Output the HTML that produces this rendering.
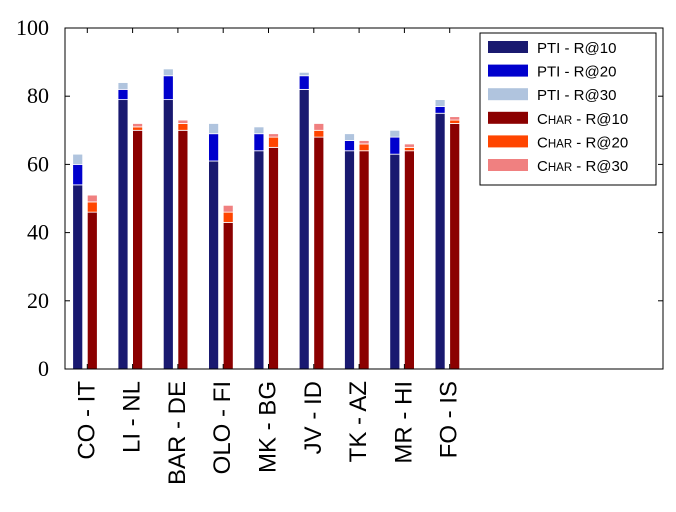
<!DOCTYPE html>
<html><head><meta charset="utf-8"><style>
body{margin:0;background:#fff;}
svg text{font-family:"Liberation Sans",sans-serif;}
</style></head><body>
<svg id="chart" width="676" height="507" xmlns="http://www.w3.org/2000/svg"></svg>
<script>
const categories=["CO - IT","LI - NL","BAR - DE","OLO - FI","MK - BG","JV - ID","TK - AZ","MR - HI","FO - IS"];
const ptiR10=[54,79,79,61,64,82,64,63,75];
const ptiR20=[60,82,86,69,69,86,67,68,77];
const ptiR30=[63,84,88,72,71,87,69,70,79];
const charR10=[46,70,70,43,65,68,64,64,72];
const charR20=[49,71,72,46,68,70,66,65,73];
const charR30=[51,72,73,48,69,72,67,66,74];
const yTicks=[0,20,40,60,80,100];
const legendLabels=["PTI - R@10","PTI - R@20","PTI - R@30","Char - R@10","Char - R@20","Char - R@30"];
const colors=["#191970","#0000cd","#b0c4de","#8b0000","#ff4500","#f08080"];

const svg=document.getElementById('chart');
const NS="http://www.w3.org/2000/svg";
const L=65,R=663,T=28,B=369;
const y=v=>B-(v/100)*(B-T);
const groupX=i=>72.7+i*45.3;
function mk(tag,attrs,parent){const e=document.createElementNS(NS,tag);for(const k in attrs)e.setAttribute(k,attrs[k]);(parent||svg).appendChild(e);return e;}

function drawStack(i,x,vals,cols,nm){
  let prev=0;
  vals.forEach((v,j)=>{
    const r=mk('rect',{x:x,y:y(v),width:10,height:y(prev)-y(v),fill:cols[j],stroke:'#fff','stroke-width':0.8});
    
    
    prev=v;
  });
}
categories.forEach((c,i)=>{
  drawStack(i,groupX(i),[ptiR10[i],ptiR20[i],ptiR30[i]],colors.slice(0,3),'pti-bar');
  drawStack(i,groupX(i)+14.6,[charR10[i],charR20[i],charR30[i]],colors.slice(3),'char-bar');
});

const fr=mk('rect',{x:L,y:T,width:R-L,height:B-T,fill:'none',stroke:'#000','stroke-width':1});



yTicks.forEach(v=>{
  mk('line',{x1:L,x2:L+5,y1:y(v),y2:y(v),stroke:'#000'});
  mk('line',{x1:R,x2:R-5,y1:y(v),y2:y(v),stroke:'#000'});
  const t=mk('text',{x:L-16,y:y(v)+7,'text-anchor':'end','font-size':22,style:'font-family:"Liberation Serif",serif'});
  t.textContent=v;
  
  
});
categories.forEach((c,i)=>{
  const tx=groupX(i)+14.6;
  mk('line',{x1:tx,x2:tx,y1:B,y2:B-5,stroke:'#000'});
  mk('line',{x1:tx,x2:tx,y1:T,y2:T+5,stroke:'#000'});
  const t=mk('text',{x:0,y:0,'text-anchor':'end','font-size':24,transform:`translate(${tx+7},${B+12}) rotate(-90)`});
  t.textContent=c;
  
  
});

const lg=mk('g',{});


mk('rect',{x:480,y:33,width:176,height:152,fill:'#fff',stroke:'#000'},lg);
legendLabels.forEach((lab,j)=>{
  const yy=47+j*23.6;
  mk('rect',{x:488,y:yy-6,width:40,height:12,fill:colors[j]},lg);
  const t=mk('text',{x:537,y:yy+6,'font-size':15},lg);
  if(lab.startsWith('Char')){t.innerHTML='C<tspan font-size="11.5">HAR</tspan>'+lab.slice(4);}
  else t.textContent=lab;
  
  
});
</script>
</body></html>
